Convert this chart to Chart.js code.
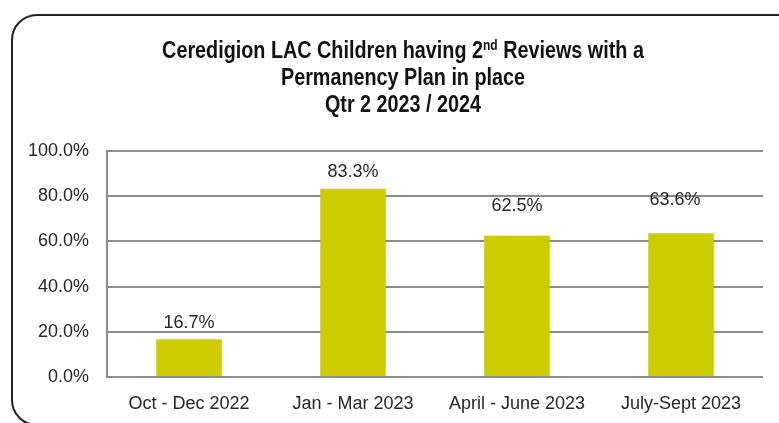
<!DOCTYPE html>
<html>
<head>
<meta charset="utf-8">
<script src="https://cdn.jsdelivr.net/npm/chart.js@4.4.1/dist/chart.umd.min.js"></script>
<style>
    html, body { margin: 0; padding: 0; background: #fff; overflow: hidden; }
    #wrap { position: relative; width: 779px; height: 423px; }
    #frame {
        position: absolute; left: 11px; top: 14px;
        width: 790px; height: 408px;
        border: 2px solid #222; border-radius: 26px;
        pointer-events: none;
    }
</style>
</head>
<body>
<div id="wrap">
    <canvas id="graph1" width="779" height="423"></canvas>
    <div id="frame"></div>
</div>
<script>
/*
    permanency plan chart - Ceredigion LAC 2nd reviews
*/

// data
const quarters = ['Oct - Dec 2022', 'Jan - Mar 2023', 'April - June 2023', 'July-Sept 2023'];
const permanencyPct = [16.7, 83.3, 62.5, 63.6];
const titleLines = [
    ['Ceredigion LAC Children having 2', 'nd', ' Reviews with a'],
    ['Permanency Plan in place'],
    ['Qtr 2 2023 / 2024']
];

// value labels were nudged by hand in the original, so keep the nudges here
const labelLift = [16, 17, 30, 33];
const labelShiftX = [0, 0, 0, -6];

const FONT = '"Liberation Sans", Arial, sans-serif';
const TEXT = '#262626';
const GRID = '#8c8c8c';
const NARROW = 0.86;   // original title is in a narrow face, squeeze to match

// title with a superscript "nd" - chart.js title can't do that
const titlePlugin = {
    id: 'supTitle',
    afterDraw(chart) {
        const ctx = chart.ctx;
        const cx = 403;
        const baselines = [58, 85, 112];
        ctx.save();
        ctx.fillStyle = '#111';
        ctx.textBaseline = 'alphabetic';
        ctx.textAlign = 'left';
        titleLines.forEach((parts, li) => {
            // measure first
            let total = 0;
            parts.forEach((p, pi) => {
                ctx.font = (pi === 1 ? 'bold 14px ' : 'bold 23px ') + FONT;
                total += ctx.measureText(p).width;
            });
            ctx.save();
            ctx.translate(cx, baselines[li]);
            ctx.scale(NARROW, 1);
            let x = -total / 2;
            parts.forEach((p, pi) => {
                const sup = pi === 1;
                ctx.font = (sup ? 'bold 14px ' : 'bold 23px ') + FONT;
                ctx.fillText(p, x, sup ? -8 : 0);
                x += ctx.measureText(p).width;
            });
            ctx.restore();
        });
        ctx.restore();
    }
};

// percentage labels above the bars
const valueLabels = {
    id: 'valueLabels',
    afterDatasetsDraw(chart) {
        const ctx = chart.ctx;
        const meta = chart.getDatasetMeta(0);
        ctx.save();
        ctx.font = '18px ' + FONT;
        ctx.fillStyle = TEXT;
        ctx.textAlign = 'center';
        ctx.textBaseline = 'middle';
        meta.data.forEach((bar, i) => {
            const v = chart.data.datasets[0].data[i];
            ctx.fillText(v.toFixed(1) + '%', bar.x + labelShiftX[i], bar.y - labelLift[i]);
        });
        ctx.restore();
    }
};

const g1 = new Chart('graph1', {
    type: 'bar',
    data: {
        labels: quarters,
        datasets: [{
            label: '2nd Reviews with Permanency Plan',
            data: permanencyPct,
            backgroundColor: '#cccc00',
            borderWidth: 0,
            barPercentage: 0.4,
            categoryPercentage: 1.0
        }]
    },
    options: {
        responsive: false,
        animation: false,
        layout: { padding: { top: 151, right: 16, bottom: 0, left: 0 } },
        plugins: {
            legend: { display: false },
            title: { display: false },
            tooltip: { enabled: false }
        },
        scales: {
            x: {
                grid: { display: false, drawTicks: false },
                border: { display: false },
                ticks: {
                    color: TEXT,
                    font: { family: FONT, size: 18 },
                    padding: 16,
                    maxRotation: 0,
                    autoSkip: false
                },
                afterFit: s => { s.height = 46; }
            },
            y: {
                min: 0,
                max: 100,
                ticks: {
                    stepSize: 20,
                    color: TEXT,
                    font: { family: FONT, size: 18 },
                    padding: 18,
                    callback: v => v.toFixed(1) + '%'
                },
                grid: { color: GRID, lineWidth: 2, drawTicks: false },
                border: { display: true, color: GRID, width: 2 },
                afterFit: s => { s.width = 107; }
            }
        }
    },
    plugins: [titlePlugin, valueLabels]
});
</script>
</body>
</html>
